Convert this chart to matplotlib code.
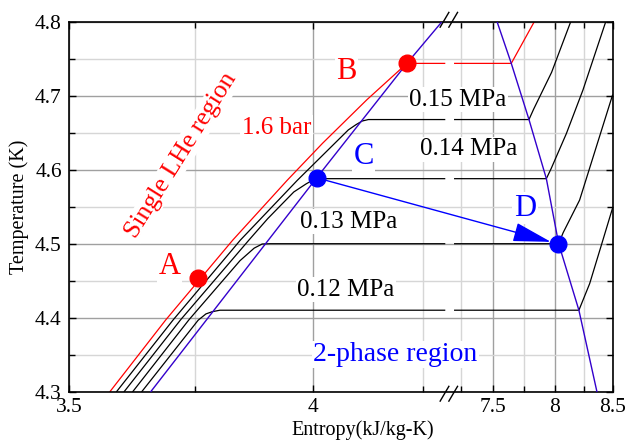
import numpy as np
import matplotlib
matplotlib.use("Agg")
import matplotlib.pyplot as plt

# saturation dome (kJ/kg-K, K)
s_liq = [3.661, 4.010, 4.212, 4.293]
T_liq = [4.30, 4.590, 4.744, 4.80]
s_vap = [7.533, 7.645, 7.788, 7.931, 8.034, 8.206, 8.362]
T_vap = [4.80, 4.744, 4.668, 4.588, 4.50, 4.41, 4.30]

# isobars: liquid branch, saturation temperature, vapour branch
iso_names = ["1.6 bar", "0.15 MPa", "0.14 MPa", "0.13 MPa", "0.12 MPa"]
iso_colors = ["red", "black", "black", "black", "black"]
T_sat = [4.744, 4.668, 4.588, 4.50, 4.41]
liq_s = [[3.580, 3.691, 3.829, 3.945, 4.022, 4.121, 4.212],
         [3.593, 3.706, 3.845, 3.967, 4.079, 4.096, 4.110, 4.124],
         [3.608, 3.721, 3.863, 3.903, 3.959, 3.986, 4.003, 4.021],
         [3.625, 3.738, 3.844, 3.874, 3.891, 3.908],
         [3.643, 3.757, 3.773, 3.786, 3.802]]
liq_T = [[4.30, 4.397, 4.505, 4.586, 4.636, 4.695, 4.744],
         [4.30, 4.397, 4.505, 4.586, 4.654, 4.661, 4.666, 4.668],
         [4.30, 4.397, 4.505, 4.534, 4.570, 4.581, 4.587, 4.588],
         [4.30, 4.397, 4.477, 4.494, 4.4996, 4.50],
         [4.30, 4.3965, 4.405, 4.408, 4.41]]
vap_s = [[7.645, 7.830],
         [7.788, 7.826, 7.975, 8.135],
         [7.931, 7.972, 8.099, 8.241, 8.439],
         [8.034, 8.072, 8.212, 8.50],
         [8.206, 8.299, 8.415, 8.50]]
vap_T = [[4.744, 4.80],
         [4.668, 4.682, 4.732, 4.80],
         [4.588, 4.602, 4.649, 4.708, 4.80],
         [4.50, 4.515, 4.559, 4.701],
         [4.41, 4.446, 4.505, 4.548]]

# state points
pt_names = ["A", "B", "C", "D"]
pt_s = [3.757, 4.212, 4.010, 8.025]
pt_T = [4.454, 4.744, 4.589, 4.50]
pt_colors = ["red", "red", "blue", "blue"]

x_major = [3.5, 4, 7.5, 8, 8.5]
x_labels = ["3.5", "4", "7.5", "8", "8.5"]
x_minor = [3.75, 4.25, 7.25, 7.75, 8.25]
y_major = [4.3, 4.4, 4.5, 4.6, 4.7, 4.8]
y_labels = ["4.3", "4.4", "4.5", "4.6", "4.7", "4.8"]
y_minor = [4.35, 4.45, 4.55, 4.65, 4.75]

# broken log axis: left piece ends at S_L, right piece starts at S_R
S_L = 4.30
S_R = 7.205
K = 955 / 1826
GAP = 10 / 1826


def fwd(s):
    s = np.asarray(s, float)
    ls = np.log(np.clip(s, 1e-6, None))
    uL = np.log(S_L)
    right = uL + GAP + K * (ls - np.log(S_R))
    mid = uL + GAP * (s - S_L) / (S_R - S_L)
    return np.where(s <= S_L, ls, np.where(s >= S_R, right, mid))


def inv(u):
    u = np.asarray(u, float)
    uL = np.log(S_L)
    uR = uL + GAP
    left = np.exp(np.clip(u, -50, 50))
    right = np.exp(np.clip((u - uR) / K + np.log(S_R), -50, 50))
    mid = S_L + (u - uL) / GAP * (S_R - S_L)
    return np.where(u <= uL, left, np.where(u >= uR, right, mid))


plt.rcParams['font.family'] = ['Liberation Serif', 'DejaVu Serif']

fig = plt.figure(figsize=(6.27, 4.40), dpi=100)
ax = fig.add_axes([0.1097, 0.1102, 0.8672, 0.8398])
ax.set_xscale('function', functions=(fwd, inv))

sat_col = '#3300cc'
ax.plot(s_liq, T_liq, color=sat_col, lw=1.0, zorder=3)
ax.plot(s_vap, T_vap, color=sat_col, lw=1.0, zorder=3)

for i in range(len(iso_names)):
    c = iso_colors[i]
    ax.plot(liq_s[i] + [S_L], liq_T[i] + [T_sat[i]], color=c, lw=0.9, zorder=2)
    ax.plot([S_R] + vap_s[i], [T_sat[i]] + vap_T[i], color=c, lw=0.9, zorder=2)

# C -> D process with arrow head
ax.annotate("", xy=(pt_s[3], pt_T[3]), xytext=(pt_s[2], pt_T[2]),
            arrowprops=dict(arrowstyle="-|>,head_length=24,head_width=6",
                            mutation_scale=1, color="blue", lw=1.0,
                            shrinkA=0, shrinkB=5), zorder=4)

for i in range(len(pt_names)):
    ax.plot(pt_s[i], pt_T[i], 'o', ms=12, color=pt_colors[i], zorder=5)

ax.set_xlim(3.5, 8.5)
ax.set_ylim(4.3, 4.8)
ax.set_xticks(x_major)
ax.set_xticklabels(x_labels)
ax.set_xticks(x_minor, minor=True)
ax.set_yticks(y_major)
ax.set_yticklabels(y_labels)
ax.set_yticks(y_minor, minor=True)
ax.grid(which='major', color='#a0a0a0', lw=1.0)
ax.grid(which='minor', color='#d6d6d6', lw=1.0)
ax.set_axisbelow(True)
ax.tick_params(which='both', direction='in', top=True, right=True,
               labelsize=15.5, width=1.0, pad=5)
ax.tick_params(which='major', length=5)
ax.tick_params(which='minor', length=4)
for sp in ax.spines.values():
    sp.set_linewidth(1.2)

ax.set_xlabel("Entropy(kJ/kg-K)", fontsize=14.5)
ax.set_ylabel("Temperature (K)", fontsize=14.5)
ax.xaxis.set_label_coords(0.54, -0.078)
ax.yaxis.set_label_coords(-0.074, 0.5)

# break marks
for y0 in [-0.026, 0.986]:
    for x0 in [0.683, 0.699]:
        ax.plot([x0, x0 + 0.016], [y0, y0 + 0.04], transform=ax.transAxes,
                color='black', lw=1.0, clip_on=False, zorder=6)

wb = dict(fc='white', ec='none', pad=1)
ax.text(0.186, 0.338, "A", color="red", fontsize=22, ha='center', va='center',
        transform=ax.transAxes, bbox=wb)
ax.text(0.511, 0.866, "B", color="red", fontsize=22, ha='center', va='center',
        transform=ax.transAxes, bbox=wb)
ax.text(0.542, 0.636, "C", color="blue", fontsize=22, ha='center', va='center',
        transform=ax.transAxes, bbox=wb)
ax.text(0.839, 0.496, "D", color="blue", fontsize=22, ha='center', va='center',
        transform=ax.transAxes, bbox=wb)
ax.text(0.382, 0.714, "1.6 bar", color="red", fontsize=18, ha='center', va='center',
        transform=ax.transAxes, bbox=wb)
ax.text(0.716, 0.789, "0.15 MPa", fontsize=18, ha='center', va='center',
        transform=ax.transAxes, bbox=wb)
ax.text(0.735, 0.656, "0.14 MPa", fontsize=18, ha='center', va='center',
        transform=ax.transAxes, bbox=wb)
ax.text(0.514, 0.459, "0.13 MPa", fontsize=18, ha='center', va='center',
        transform=ax.transAxes, bbox=wb)
ax.text(0.510, 0.275, "0.12 MPa", fontsize=18, ha='center', va='center',
        transform=ax.transAxes, bbox=wb)
ax.text(0.600, 0.100, "2-phase region", color="blue", fontsize=20, ha='center',
        va='center', transform=ax.transAxes, bbox=wb)
ax.text(0.207, 0.640, "Single LHe region", color="red", fontsize=18.5, rotation=58,
        ha='center', va='center', transform=ax.transAxes, bbox=wb)

fig.savefig("out.png", dpi=100)
